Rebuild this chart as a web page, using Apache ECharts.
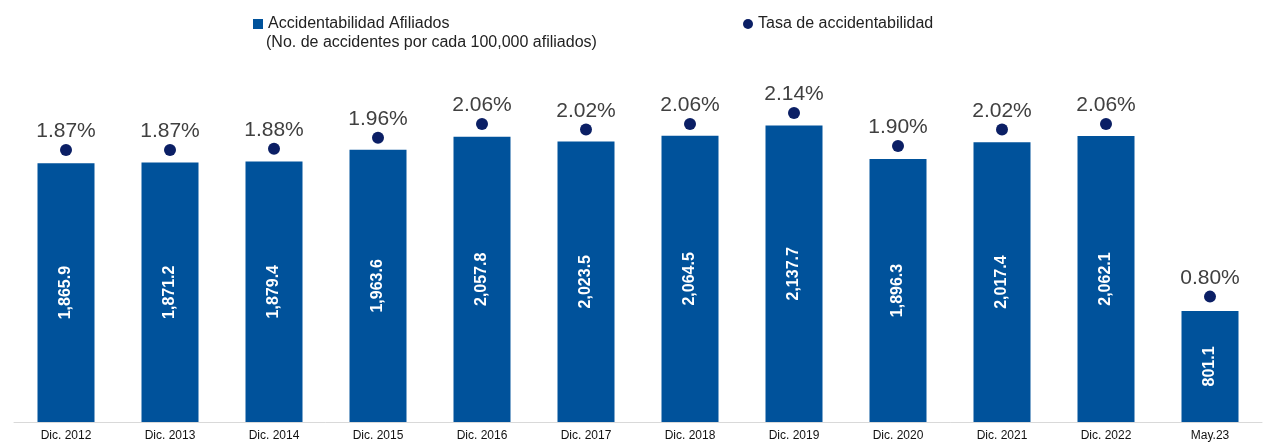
<!DOCTYPE html>
<html><head><meta charset="utf-8">
<script src="https://cdn.jsdelivr.net/npm/echarts@6/dist/echarts.min.js"></script>
<style>html,body{margin:0;padding:0;background:#fff}#c{width:1263px;height:443px}</style>
</head><body><div id="c"></div>
<script>
const categories = ['Dic. 2012','Dic. 2013','Dic. 2014','Dic. 2015','Dic. 2016','Dic. 2017','Dic. 2018','Dic. 2019','Dic. 2020','Dic. 2021','Dic. 2022','May.23'];
const accidentabilidad = [1865.9,1871.2,1879.4,1963.6,2057.8,2023.5,2064.5,2137.7,1896.3,2017.4,2062.1,801.1];
const tasa = [1.87,1.87,1.88,1.96,2.06,2.02,2.06,2.14,1.90,2.02,2.06,0.80];

const FONT = 'Liberation Sans, Arial, sans-serif';
const fmt = v => v.toLocaleString('en-US',{minimumFractionDigits:1,maximumFractionDigits:1});
const chart = echarts.init(document.getElementById('c'));
chart.setOption({
  animation:false,
  textStyle:{fontFamily:FONT},
  grid:{left:14,right:1,top:6,bottom:21,containLabel:false},
  legend:[
    {left:248,top:11,itemWidth:10,itemHeight:10,selectedMode:false,
     textStyle:{fontSize:16,color:'#222',fontFamily:FONT},
     data:[{name:'Accidentabilidad Afiliados',icon:'rect'}]},
    {left:738,top:11,itemWidth:10,itemHeight:10,selectedMode:false,
     textStyle:{fontSize:16,color:'#222',fontFamily:FONT},
     data:[{name:'Tasa de accidentabilidad',icon:'circle'}]}
  ],
  graphic:[{type:'text',left:266,top:35,style:{text:'(No. de accidentes por cada 100,000 afiliados)',fontSize:16,fill:'#222',fontFamily:FONT}}],
  xAxis:{type:'category',data:categories,
    axisLine:{lineStyle:{color:'#d9d9d9',width:1}},axisTick:{show:false},
    axisLabel:{fontSize:12,color:'#111',margin:8}},
  yAxis:[
    {type:'value',min:0,max:3000,show:false,splitLine:{show:false}},
    {type:'value',min:-0.115,max:2.921,show:false,splitLine:{show:false}}
  ],
  series:[
    {name:'Accidentabilidad Afiliados',type:'bar',data:accidentabilidad,barWidth:57,
     itemStyle:{color:'#00529B'},
     label:{show:true,position:'inside',rotate:90,color:'#fff',fontWeight:'bold',fontSize:16,
       formatter:p=>fmt(p.value)}},
    {name:'Tasa de accidentabilidad',type:'scatter',yAxisIndex:1,data:tasa,symbolSize:12,
     itemStyle:{color:'#0B1F65',opacity:1},
     label:{show:true,position:'top',distance:2,fontSize:21,color:'#404040',
       formatter:p=>p.value.toFixed(2)+'%'}}
  ]
});
</script></body></html>
